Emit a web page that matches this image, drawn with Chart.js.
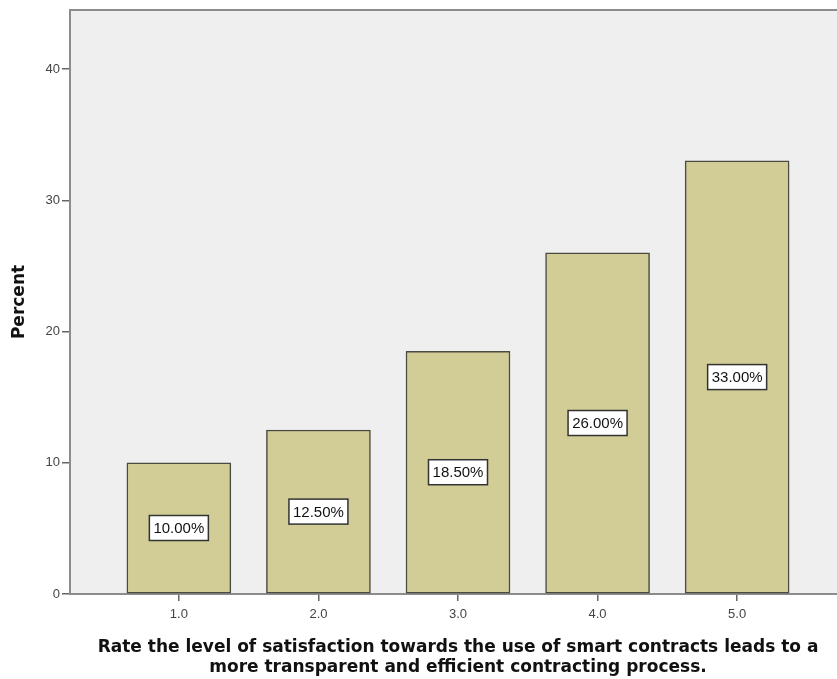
<!DOCTYPE html>
<html lang="en">
<head>
  <meta charset="UTF-8">
  <title>Percent by rating</title>
  <script src="https://cdn.jsdelivr.net/npm/chart.js"></script>
  <style>
    html, body {
      margin: 0;
      background: #ffffff;
      overflow: hidden;
    }
  </style>
</head>
<body>
  <canvas id="chart" width="850" height="679"></canvas>

  <script>
    // values
    const ratings = [1, 2, 3, 4, 5];
    const percents = [10, 12.5, 18.5, 26, 33];
    const yTicks = [0, 10, 20, 30, 40];
    const xTitle = [
      'Rate the level of satisfaction towards the use of smart contracts leads to a',
      'more transparent and efficient contracting process.'
    ];

    // grey plot background with top border
    const plotBackground = {
      id: 'plotBackground',
      beforeDraw(chart) {
        const { ctx, chartArea: a } = chart;
        ctx.save();
        ctx.fillStyle = '#efefef';
        ctx.fillRect(a.left, a.top, a.right - a.left, a.bottom - a.top);
        ctx.strokeStyle = '#8c8c8c';
        ctx.lineWidth = 2;
        ctx.beginPath();
        ctx.moveTo(a.left, a.top);
        ctx.lineTo(a.right, a.top);
        ctx.stroke();
        ctx.restore();
      }
    };

    // boxed percentage labels in the middle of each bar
    const boxLabels = {
      id: 'boxLabels',
      afterDatasetsDraw(chart) {
        const { ctx } = chart;
        const meta = chart.getDatasetMeta(0);
        ctx.save();
        ctx.font = '15px "Liberation Sans", Arial, sans-serif';
        ctx.textAlign = 'center';
        ctx.textBaseline = 'middle';
        meta.data.forEach((bar, i) => {
          const cy = (bar.y + bar.base) / 2;
          const w = 59, h = 25;
          ctx.fillStyle = '#ffffff';
          ctx.fillRect(bar.x - w / 2, cy - h / 2, w, h);
          ctx.strokeStyle = '#333333';
          ctx.lineWidth = 1.5;
          ctx.strokeRect(bar.x - w / 2, cy - h / 2, w, h);
          ctx.fillStyle = '#111111';
          ctx.fillText(percents[i].toFixed(2) + '%', bar.x, cy + 1);
        });
        ctx.restore();
      }
    };

    new Chart(document.getElementById('chart'), {
      type: 'bar',
      data: {
        datasets: [{
          data: ratings.map((r, i) => ({ x: r, y: percents[i] })),
          backgroundColor: '#d2cd96',
          borderColor: '#4a4a40',
          borderWidth: 1.5,
          borderSkipped: false,
          barThickness: 104
        }]
      },
      options: {
        responsive: false,
        animation: false,
        layout: { padding: { top: 10, right: 4, left: 0, bottom: 0 } },
        plugins: {
          legend: { display: false },
          tooltip: { enabled: false }
        },
        scales: {
          x: {
            type: 'linear',
            min: 0.22,
            max: 5.78,
            offset: false,
            afterBuildTicks: s => { s.ticks = ratings.map(v => ({ value: v })); },
            afterFit: s => { s.height = 85; },
            grid: { offset: false, drawOnChartArea: false, drawTicks: true, tickLength: 7, color: '#666666', lineWidth: 1.5 },
            border: { color: '#8c8c8c', width: 2 },
            ticks: {
              padding: 6,
              color: '#444444',
              font: { size: 13, family: '"Liberation Sans", Arial, sans-serif' },
              callback: v => Number(v).toFixed(1)
            },
            title: {
              display: true,
              text: xTitle,
              color: '#111111',
              font: { size: 17, weight: 'bold', family: '"DejaVu Sans", sans-serif', lineHeight: '20px' },
              padding: { top: 0, bottom: 1 }
            }
          },
          y: {
            min: 0,
            max: 44.5,
            afterBuildTicks: s => { s.ticks = yTicks.map(v => ({ value: v })); },
            afterFit: s => { s.width = 70; },
            grid: { drawOnChartArea: false, drawTicks: true, tickLength: 8, color: '#666666', lineWidth: 1.5 },
            border: { color: '#8c8c8c', width: 2 },
            ticks: {
              padding: 2,
              color: '#444444',
              font: { size: 13, family: '"Liberation Sans", Arial, sans-serif' }
            },
            title: {
              display: true,
              text: 'Percent',
              color: '#111111',
              font: { size: 17, weight: 'bold', family: '"DejaVu Sans", sans-serif', lineHeight: '20px' },
              padding: { top: 10, bottom: 0 }
            }
          }
        }
      },
      plugins: [plotBackground, boxLabels]
    });
  </script>
</body>
</html>
